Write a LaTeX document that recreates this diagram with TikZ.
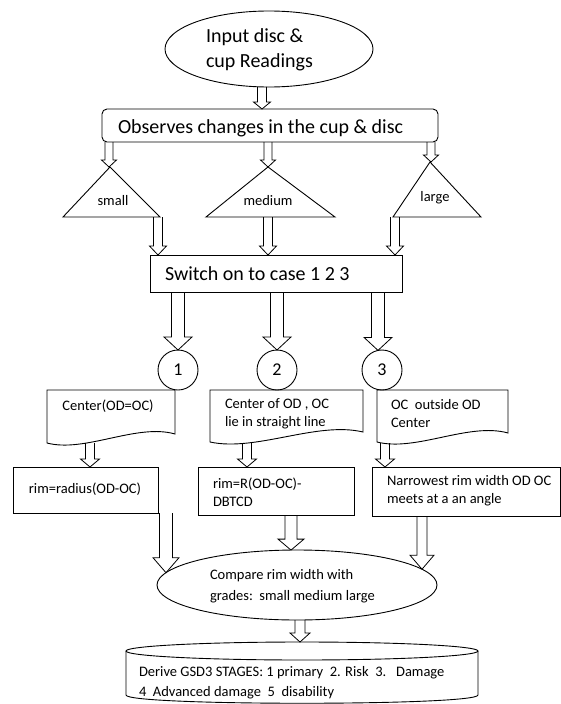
\documentclass[tikz,border=0pt]{standalone}
\usepackage{fontspec}
\setmainfont{Carlito}
\usetikzlibrary{shapes.geometric,calc}
\newcommand\hollowarrow[5]{%
  \draw[harrow] let \p1=(#1), \p2=(#2) in
    (\x1-#3pt,\y1) -- (\x1-#3pt,\y2+#5pt) -- (\x1-#4pt,\y2+#5pt) -- (\x1,\y2)
    -- (\x1+#4pt,\y2+#5pt) -- (\x1+#3pt,\y2+#5pt) -- (\x1+#3pt,\y1);}
\begin{document}
\begin{tikzpicture}[x=1pt,y=-1pt,
  every node/.style={inner sep=0pt, outer sep=0pt},
  outline/.style={draw=black, line width=0.9pt},
  harrow/.style={draw=black, line width=0.8pt, line join=miter},
  bigtext/.style={font=\fontsize{20}{25}\selectfont, align=left},
  smalltext/.style={font=\fontsize{14.5}{18}\selectfont, align=left},
  widetext/.style={font=\fontsize{14.5}{21}\selectfont, align=left},
  numtext/.style={font=\fontsize{18}{20}\selectfont},
]
\useasboundingbox (0,0) rectangle (561,704);
\fill[white] (0,0) rectangle (561,704);

% ---- input ellipse
\node[outline, ellipse, minimum width=208pt, minimum height=76pt] (inp) at (269,49) {};
\node[bigtext, anchor=west] (inptxt) at (206,50) {Input disc \&\\cup Readings};

% ---- observes box
\node[outline, rounded corners=5pt, minimum width=336pt, minimum height=33pt] (obs) at (270,125.5) {};
\node[bigtext, anchor=west] (obstxt) at (118,128) {Observes changes in the cup \& disc};

% ---- triangles
\coordinate (smA) at (110,167); \coordinate (smL) at (63,217); \coordinate (smR) at (160,217);
\coordinate (mdA) at (268,167); \coordinate (mdL) at (206,217); \coordinate (mdR) at (335,217);
\coordinate (lgA) at (430,162); \coordinate (lgL) at (393,217); \coordinate (lgR) at (481,217);
\draw[outline] (smA) -- (smR) -- (smL) -- cycle;
\draw[outline] (mdA) -- (mdR) -- (mdL) -- cycle;
\draw[outline] (lgA) -- (lgR) -- (lgL) -- cycle;
\node[smalltext] (smtxt) at (113,201) {small};
\node[smalltext] (mdtxt) at (268,201) {medium};
\node[smalltext] (lgtxt) at (435,198) {large};

% ---- switch box
\node[outline, minimum width=252pt, minimum height=37pt] (sw) at (276,273.5) {};
\node[bigtext, anchor=west] (swtxt) at (165,274) {Switch on to case 1 2 3};

% ---- case circles
\node[outline, circle, minimum size=40pt, numtext] (c1) at (178,370) {1};
\node[outline, circle, minimum size=40pt, numtext] (c2) at (277,370) {2};
\node[outline, circle, minimum size=40pt, numtext] (c3) at (382,370) {3};

% ---- document shapes
\draw[outline] (47,390) -- (175,390) -- (175,434) .. controls (137,423) and (85,453) .. (47,443) -- cycle;
\draw[outline] (210,390) -- (363,390) -- (363,432) .. controls (317,421) and (256,452) .. (210,442) -- cycle;
\draw[outline] (377,390) -- (508,390) -- (508,433) .. controls (469,422) and (416,452) .. (377,442) -- cycle;
\node[smalltext] (d1txt) at (108,406) {Center(OD=OC)};
\node[smalltext, anchor=west] (d2txt) at (225,414) {Center of OD , OC\\lie in straight line};
\node[smalltext, anchor=west] (d3txt) at (391,414) {OC\ \ outside OD\\Center};

% ---- result boxes
\node[outline, minimum width=145pt, minimum height=46pt] (b1) at (85.5,490) {};
\node[outline, minimum width=156pt, minimum height=48pt] (b2) at (276,491) {};
\node[outline, minimum width=188pt, minimum height=49pt] (b3) at (466.5,491.5) {};
\node[smalltext] (b1txt) at (85,489) {rim=radius(OD-OC)};
\node[smalltext, anchor=west] (b2txt) at (213,492) {rim=R(OD-OC)-\\DBTCD};
\node[smalltext, anchor=west] (b3txt) at (387,491) {Narrowest rim width OD OC\\meets at a an angle};

% ---- compare ellipse
\node[outline, ellipse, minimum width=280pt, minimum height=70pt] (cmp) at (297,585) {};
\node[widetext, anchor=west] (cmptxt) at (210,586) {Compare rim width with\\grades:\ \ small medium large};

% ---- stages cylinder
\draw[outline] (302,651) ellipse [x radius=176, y radius=9];
\draw[outline] (126,651) -- (126,695) .. controls (126,706) and (478,706) .. (478,695) -- (478,651);
\node[widetext, anchor=west, font=\fontsize{14.5}{20}\selectfont] (stgtxt) at (139,683)
  {Derive GSD3 STAGES: 1 primary\ \ 2. Risk\ \ 3.\ \ \ Damage\\4\ \ Advanced damage\ \ 5\ \ disability};

% ---- hollow arrows
\coordinate (a0s) at (262,86.8); \coordinate (a0e) at (262,109);
\hollowarrow{a0s}{a0e}{4.5}{8.5}{7}

\coordinate (o1s) at (109,142); \coordinate (o1e) at (smA);
\coordinate (o2s) at (268,142); \coordinate (o2e) at (mdA);
\coordinate (o3s) at (431,142); \coordinate (o3e) at (431,162);
\hollowarrow{o1s}{o1e}{4}{7.5}{7}
\hollowarrow{o2s}{o2e}{4}{7.5}{7}
\hollowarrow{o3s}{o3e}{4}{7.5}{7}

\coordinate (t1s) at (158,217); \coordinate (t1e) at (158,255);
\coordinate (t2s) at (268,217); \coordinate (t2e) at (268,255);
\coordinate (t3s) at (395,217); \coordinate (t3e) at (395,255);
\hollowarrow{t1s}{t1e}{4.5}{8.5}{9}
\hollowarrow{t2s}{t2e}{4.5}{8.5}{9}
\hollowarrow{t3s}{t3e}{4.5}{8.5}{9}

\coordinate (s1s) at (178,292); \coordinate (s1e) at (c1.north);
\coordinate (s2s) at (277,292); \coordinate (s2e) at (c2.north);
\coordinate (s3s) at (378,292); \coordinate (s3e) at (378,350.4);
\hollowarrow{s1s}{s1e}{6.5}{14}{13}
\hollowarrow{s2s}{s2e}{6.5}{14}{13}
\hollowarrow{s3s}{s3e}{6.5}{14}{13}

\coordinate (d1s) at (90,443); \coordinate (d1e) at (90,467);
\coordinate (d2s) at (247,443); \coordinate (d2e) at (247,467);
\coordinate (d3s) at (385,443); \coordinate (d3e) at (385,467);
\hollowarrow{d1s}{d1e}{4.5}{9.5}{8}
\hollowarrow{d2s}{d2e}{4.5}{9.5}{8}
\hollowarrow{d3s}{d3e}{4.5}{9.5}{8}

\coordinate (r1s) at (166,513); \coordinate (r1e) at (166,572.7);
\coordinate (r2s) at (291,515); \coordinate (r2e) at (291,550.1);
\coordinate (r3s) at (422,516); \coordinate (r3e) at (422,569.2);
\hollowarrow{r1s}{r1e}{6.5}{13}{15}
\hollowarrow{r2s}{r2e}{6}{13}{11}
\hollowarrow{r3s}{r3e}{5}{12}{14}

\coordinate (cms) at (300,620); \coordinate (cme) at (300,642);
\hollowarrow{cms}{cme}{5}{10}{9}
\end{tikzpicture}
\end{document}
